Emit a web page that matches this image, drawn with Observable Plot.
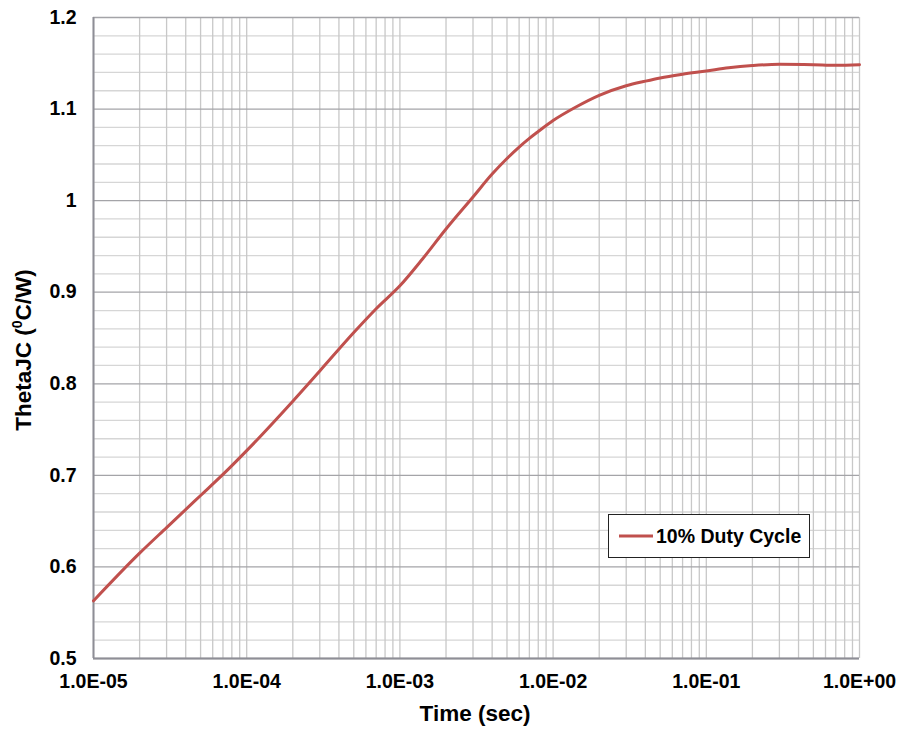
<!DOCTYPE html>
<html>
<head>
<meta charset="utf-8">
<script src="https://cdn.jsdelivr.net/npm/d3@7"></script>
<script src="https://cdn.jsdelivr.net/npm/@observablehq/plot@0.6"></script>
<style>
  html, body { margin: 0; padding: 0; background: #fff; }
  #chart { width: 898px; height: 729px; }
</style>
</head>
<body>
<div id="chart"></div>
<script>
// ---- Data ----
const times = [1e-5, 2e-5, 3e-5, 5e-5, 7e-5, 1e-4, 2e-4, 3e-4, 5e-4, 7e-4,
  1e-3, 1.4e-3, 2e-3, 3e-3, 4e-3, 5e-3, 6e-3, 7e-3, 8e-3, 1e-2, 1.4e-2, 2e-2, 3e-2,
  4e-2, 5e-2, 7e-2, 1e-1, 1.4e-1, 2e-1, 3e-1, 5e-1, 7e-1, 1];
const thetaJC = [0.563, 0.615, 0.643, 0.678, 0.701, 0.727, 0.781, 0.814, 0.856, 0.882,
  0.907, 0.936, 0.969, 1.004, 1.029, 1.046, 1.0585, 1.068, 1.0755, 1.0875, 1.102, 1.115, 1.1255,
  1.1305, 1.134, 1.138, 1.1415, 1.145, 1.1475, 1.149, 1.1485, 1.1478, 1.1484];
const seriesName = "10% Duty Cycle";
const xTickValues = [1e-5, 1e-4, 1e-3, 1e-2, 1e-1, 1];
const xTickLabels = ["1.0E-05", "1.0E-04", "1.0E-03", "1.0E-02", "1.0E-01", "1.0E+00"];
const yTickValues = [0.5, 0.6, 0.7, 0.8, 0.9, 1.0, 1.1, 1.2];
const yTickLabels = ["0.5", "0.6", "0.7", "0.8", "0.9", "1", "1.1", "1.2"];
const xTitle = "Time (sec)";

// ---- Derived tables ----
const data = times.map((t, i) => ({t, v: thetaJC[i]}));
const xMinor = [];
for (let e = -5; e < 0; e++) for (let k = 2; k <= 9; k++) xMinor.push(+(k * Math.pow(10, e)).toPrecision(3));
const yMinor = d3.range(0, 36).map(i => +(0.5 + i * 0.02).toFixed(2)).filter(v => Math.abs(v * 10 - Math.round(v * 10)) > 1e-6);

const FONT = "'Liberation Sans', Arial, Helvetica, sans-serif";
const RED = "#C0504D";

const plot = Plot.plot({
  width: 898,
  height: 729,
  marginLeft: 93,
  marginRight: 39,
  marginTop: 17,
  marginBottom: 71,
  style: {fontFamily: FONT, background: "#fff", color: "#000"},
  x: {type: "log", domain: [1e-5, 1]},
  y: {domain: [0.5, 1.2]},
  marks: [
    Plot.ruleY(yMinor, {stroke: "#d6d6d6", strokeWidth: 1.3}),
    Plot.ruleX(xMinor, {stroke: "#c8c8c8", strokeWidth: 1.3}),
    Plot.ruleX(xTickValues, {stroke: "#c8c8c8", strokeWidth: 1.3}),
    Plot.ruleY(yTickValues, {stroke: "#a4a4a8", strokeWidth: 1.3}),
    Plot.ruleX([1e-5], {stroke: "#8e8e96", strokeWidth: 2}),
    Plot.ruleY([0.5], {stroke: "#8e8e96", strokeWidth: 2}),
    Plot.line(data, {x: "t", y: "v", stroke: RED, strokeWidth: 3, curve: "monotone-x"}),
    Plot.axisX(xTickValues, {
      tickFormat: d => xTickLabels[xTickValues.indexOf(d)],
      tickSize: 0, tickPadding: 16, fontSize: 19.5, fontWeight: "bold", label: null
    }),
    Plot.axisY(yTickValues, {
      tickFormat: d => yTickLabels[yTickValues.indexOf(d)],
      tickSize: 0, tickPadding: 17, fontSize: 19.5, fontWeight: "bold", label: null
    })
  ]
});

document.getElementById("chart").appendChild(plot);

// ---- Titles and legend ----
const svg = d3.select(plot);
svg.append("text")
  .attr("x", 475).attr("y", 721)
  .attr("text-anchor", "middle")
  .attr("font-family", FONT).attr("font-size", 22.5).attr("font-weight", "bold")
  .attr("fill", "#000")
  .text(xTitle);

const yt = svg.append("text")
  .attr("transform", "translate(31,350) rotate(-90)")
  .attr("text-anchor", "middle")
  .attr("font-family", FONT).attr("font-size", 22.5).attr("font-weight", "bold")
  .attr("fill", "#000");
yt.append("tspan").text("ThetaJC (");
yt.append("tspan").attr("font-size", 14).attr("dy", -9).text("0");
yt.append("tspan").attr("dy", 9).text("C/W)");

const lg = svg.append("g");
lg.append("rect")
  .attr("x", 608.5).attr("y", 514.5).attr("width", 201).attr("height", 43)
  .attr("fill", "#fff").attr("stroke", "#222").attr("stroke-width", 1);
lg.append("line")
  .attr("x1", 619).attr("x2", 653).attr("y1", 536).attr("y2", 536)
  .attr("stroke", RED).attr("stroke-width", 3);
lg.append("text")
  .attr("x", 656).attr("y", 543)
  .attr("text-anchor", "start")
  .attr("font-family", FONT).attr("font-size", 19.5).attr("font-weight", "bold")
  .attr("fill", "#000")
  .text(seriesName);
</script>
</body>
</html>
